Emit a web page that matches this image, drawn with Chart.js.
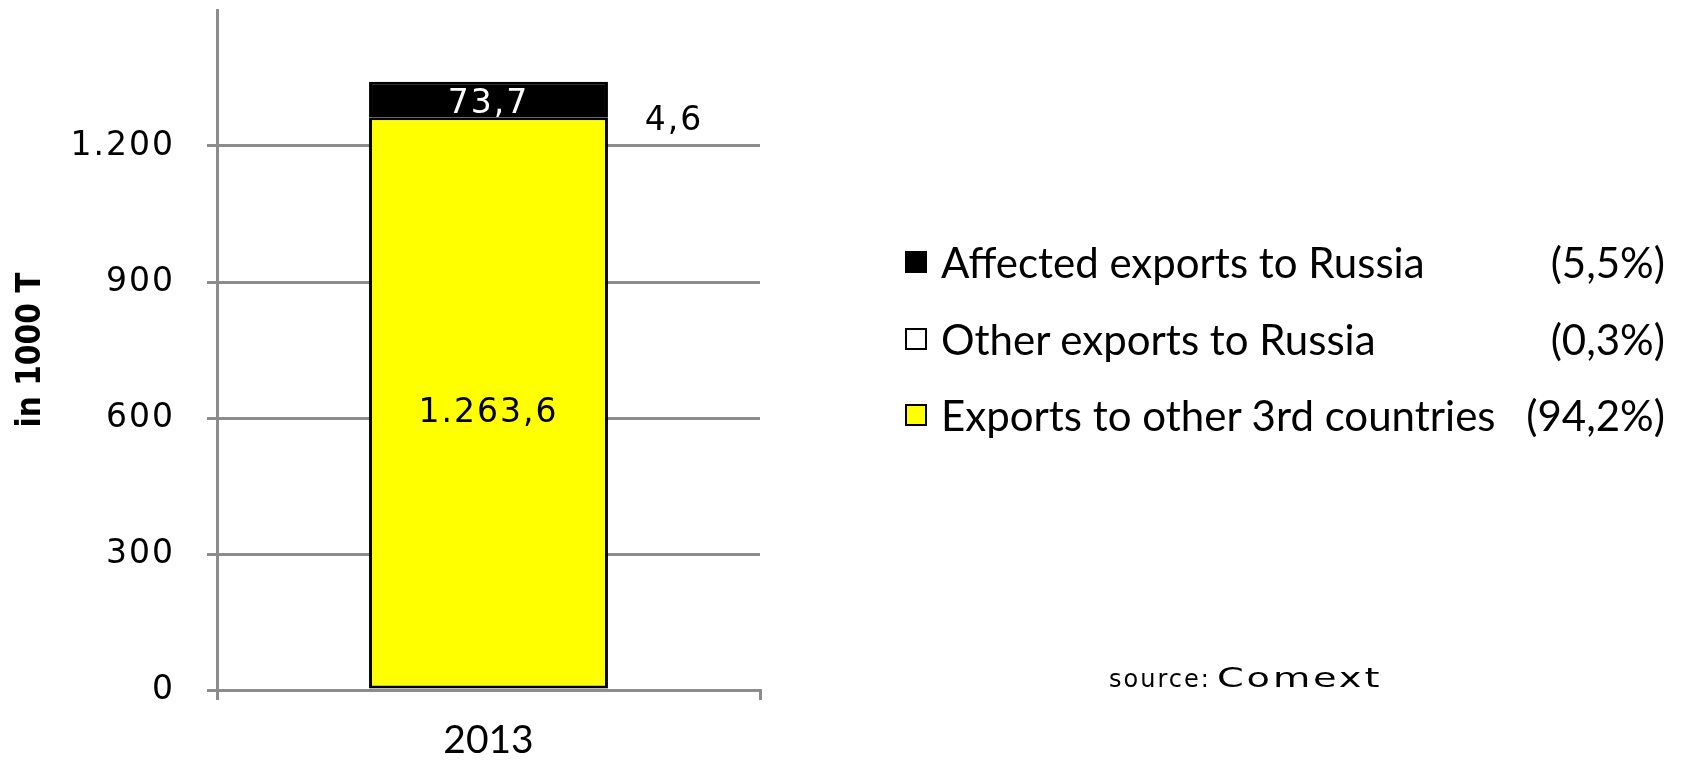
<!DOCTYPE html>
<html>
<head>
<meta charset="utf-8">
<script src="https://cdn.jsdelivr.net/npm/chart.js@4.4.1/dist/chart.umd.min.js"></script>
<style>
  body { margin: 0; background: #fff; }
  #wrap { position: relative; width: 1684px; height: 760px; overflow: hidden; }
  #legend { position: absolute; left: 905px; top: 0; }
  .item { position: absolute; left: 0; height: 50px; display: flex; align-items: center;
          font-family: Lato, "Open Sans", sans-serif; font-size: 42px; color: #000; white-space: nowrap; }
  .box { width: 18px; height: 18px; border: 2px solid #000; margin-right: 14px; flex: none; }
  .pct { position: absolute; left: 0; width: 760px; text-align: right; }
  #source { position: absolute; left: 1109px; top: 662px; font-family: "DejaVu Sans", Verdana, sans-serif;
            font-size: 24px; color: #000; white-space: nowrap; }
  #source .a { letter-spacing: 2px; }
  #source .b { display: inline-block; margin-left: 6px; font-size: 27px; letter-spacing: 2px; transform: scaleX(1.42); transform-origin: left center; }
</style>
</head>
<body>
<div id="wrap">
  <canvas id="myChart" width="1684" height="760"></canvas>
  <div id="legend"></div>
  <div id="source"><span class="a">source:</span><span class="b">Comext</span></div>
</div>
<script>
// data
const categories = ["2013"];
const seriesNames = ["Exports to other 3rd countries", "Other exports to Russia", "Affected exports to Russia"];
const exportsOther3rd = [1263.6];
const otherRussia = [4.6];
const affectedRussia = [73.7];
const shares = [94.2, 0.3, 5.5];
const yTicks = [0, 300, 600, 900, 1200];
const yMax = 1500;

const colors = ["#ffff00", "#ffffff", "#000000"];
const grey = "#8c8c8c";

// german number format: 1.263,6
const fmt = (v, dec) => {
  const parts = v.toFixed(dec).split(".");
  parts[0] = parts[0].replace(/\B(?=(\d{3})+(?!\d))/g, ".");
  return parts.join(",");
};

const seriesData = [exportsOther3rd, otherRussia, affectedRussia];

const labelPlugin = {
  id: "barLabels",
  afterDatasetsDraw(chart) {
    const ctx = chart.ctx;
    ctx.save();
    ctx.font = "33px 'DejaVu Sans'";
    ctx.letterSpacing = "2px";
    ctx.textAlign = "center";
    ctx.textBaseline = "middle";
    chart.data.datasets.forEach((ds, i) => {
      const meta = chart.getDatasetMeta(i);
      meta.data.forEach((bar, j) => {
        const text = fmt(ds.data[j], 1);
        const mid = (bar.y + bar.base) / 2;
        if (i === 0) {
          ctx.fillStyle = "#000";
          ctx.fillText(text, bar.x, mid + 11);
        } else if (i === 1) {
          ctx.fillStyle = "#000";
          ctx.fillText(text, bar.x + bar.width / 2 + 66, mid + 5);
        } else {
          ctx.fillStyle = "#fff";
          ctx.fillText(text, bar.x, mid + 6);
        }
      });
    });
    ctx.restore();
    // spacing for the y tick labels drawn after this
    ctx.letterSpacing = "2px";
  },
  afterDraw(chart) {
    chart.ctx.letterSpacing = "0px";
  }
};

const ctx = document.getElementById("myChart").getContext("2d");
const myChart = new Chart(ctx, {
  type: "bar",
  data: {
    labels: categories,
    datasets: seriesNames.map((name, i) => ({
      label: name,
      data: seriesData[i],
      backgroundColor: colors[i],
      borderColor: "#000",
      borderWidth: 3,
      borderSkipped: false,
      categoryPercentage: 1,
      barPercentage: 0.44,
    })),
  },
  options: {
    responsive: false,
    animation: false,
    layout: { padding: { top: 10, right: 924, bottom: 0, left: 0 } },
    plugins: { legend: { display: false }, tooltip: { enabled: false } },
    scales: {
      x: {
        stacked: true,
        afterFit: (scale) => {
          scale.height = 70;
          scale.paddingLeft = 0;
          scale.paddingRight = 0;
        },
        grid: { offset: true, drawOnChartArea: false, color: grey, lineWidth: 3, tickLength: 10 },
        border: { color: grey, width: 3 },
        ticks: { color: "#000", font: { family: "Lato", size: 39 }, padding: 17 },
      },
      y: {
        stacked: true,
        min: 0,
        max: yMax,
        afterFit: (scale) => {
          scale.width = 217;
          scale.paddingTop = 0;
          scale.paddingBottom = 0;
        },
        afterBuildTicks: (scale) => {
          scale.ticks = yTicks.map((v) => ({ value: v }));
        },
        grid: { color: grey, lineWidth: 3, tickLength: 10 },
        border: { color: grey, width: 3 },
        ticks: {
          z: 1,
          color: "#000",
          font: { family: "DejaVu Sans", size: 33 },
          padding: 32,
          callback: (v) => fmt(v, 0),
        },
        title: {
          display: true,
          text: "in 1000 T",
          color: "#000",
          font: { family: "'Liberation Sans Narrow', 'DejaVu Sans Condensed', sans-serif", size: 33, weight: "bold" },
          padding: { top: 12, bottom: 0 },
        },
      },
    },
  },
  plugins: [labelPlugin],
});

// legend on the right, top entry is the top of the stack
const legendRoot = document.getElementById("legend");
const legendTops = [237, 314, 390];
seriesNames.slice().reverse().forEach((name, k) => {
  const i = seriesNames.length - 1 - k;
  const item = document.createElement("div");
  item.className = "item";
  item.style.top = legendTops[k] + "px";
  item.style.width = "760px";

  const box = document.createElement("div");
  box.className = "box";
  box.style.background = colors[i];
  item.appendChild(box);

  const txt = document.createElement("span");
  txt.textContent = name;
  item.appendChild(txt);

  const pct = document.createElement("span");
  pct.className = "pct";
  pct.textContent = "(" + fmt(shares[i], 1) + "%)";
  item.appendChild(pct);

  legendRoot.appendChild(item);
});
</script>
</body>
</html>
